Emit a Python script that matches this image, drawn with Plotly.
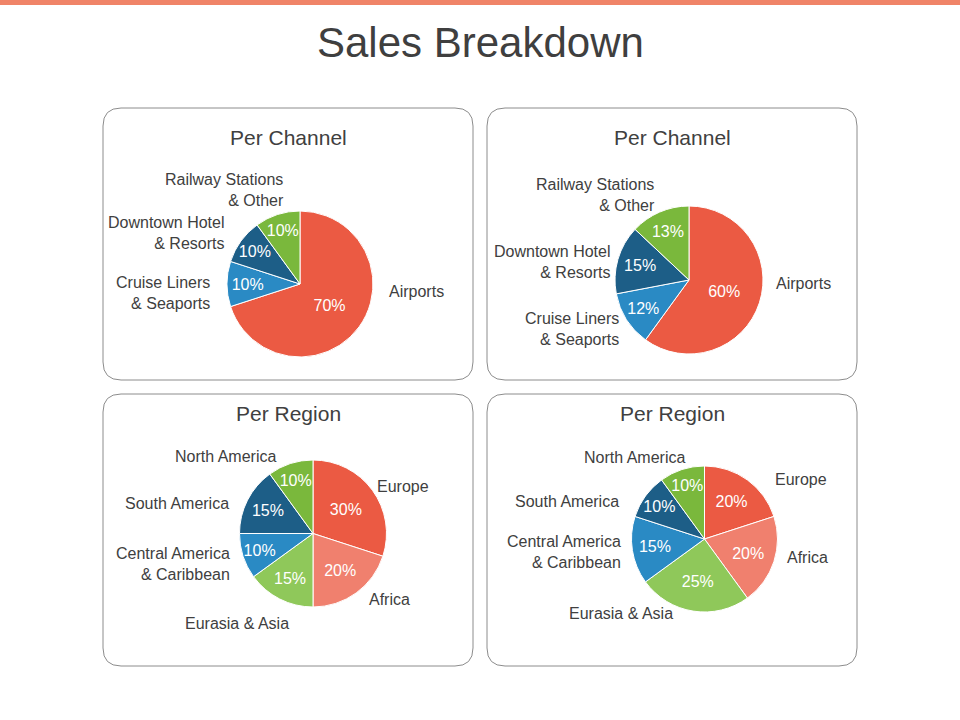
import plotly.graph_objects as go

W, H = 960, 720

# ---- data ----
channel_labels = ["Airports", "Cruise Liners<br>& Seaports", "Downtown Hotel<br>& Resorts", "Railway Stations<br>& Other"]
channel_a = [70, 10, 10, 10]
channel_b = [60, 12, 15, 13]
region_labels = ["Europe", "Africa", "Eurasia & Asia", "Central America<br>& Caribbean", "South America", "North America"]
region_a = [30, 20, 15, 10, 15, 10]
region_b = [20, 20, 25, 15, 10, 10]

channel_colors = ["#EB5A43", "#2A8AC4", "#1D5E87", "#7AB83C"]
region_colors = ["#EB5A43", "#F0806E", "#8FC85A", "#2A8AC4", "#1D5E87", "#7AB83C"]

FONT = "Liberation Sans, Arial, sans-serif"
TXT = "#404040"

# panel layout: (box x0, y0, x1, y1), title y, pie centre/radius, label placements
panels = [
    dict(box=(103, 108, 473, 380), title="Per Channel", ty=137, c=(300, 284), r=73,
         labels=channel_labels, values=channel_a, colors=channel_colors,
         lab=[(387, 291, "left"), (212, 293, "right"), (227, 233, "right"), (286, 190, "right")]),
    dict(box=(487, 108, 857, 380), title="Per Channel", ty=137, c=(689, 280), r=74,
         labels=channel_labels, values=channel_b, colors=channel_colors,
         lab=[(774, 284, "left"), (621, 329, "right"), (613, 262, "right"), (657, 195, "right")]),
    dict(box=(103, 394, 473, 666), title="Per Region", ty=413, c=(313, 533.5), r=73.5,
         labels=region_labels, values=region_a, colors=region_colors,
         lab=[(375, 486, "left"), (367, 599, "left"), (237, 623, "center"), (232, 564, "right"),
              (231, 504, "right"), (278, 456, "right")]),
    dict(box=(487, 394, 857, 666), title="Per Region", ty=413, c=(704.5, 539), r=73,
         labels=region_labels, values=region_b, colors=region_colors,
         lab=[(773, 479, "left"), (785, 557, "left"), (621, 613, "center"), (623, 552, "right"),
              (621, 501, "right"), (687, 457, "right")]),
]

def px(x):
    return x / W

def py(y):
    return 1 - y / H

def rounded_rect(x0, y0, x1, y1, rad=18):
    X0, X1 = px(x0), px(x1)
    Y0, Y1 = py(y0), py(y1)
    rx, ry = rad / W, rad / H
    return (f"M {X0+rx},{Y0} L {X1-rx},{Y0} Q {X1},{Y0} {X1},{Y0-ry} "
            f"L {X1},{Y1+ry} Q {X1},{Y1} {X1-rx},{Y1} "
            f"L {X0+rx},{Y1} Q {X0},{Y1} {X0},{Y1+ry} "
            f"L {X0},{Y0-ry} Q {X0},{Y0} {X0+rx},{Y0} Z")

fig = go.Figure()
shapes = [dict(type="rect", xref="paper", yref="paper", x0=0, x1=1, y0=py(5), y1=1,
               fillcolor="#F08468", line=dict(width=0))]
annotations = [dict(text="Sales Breakdown", x=0.5, y=py(42), xref="paper", yref="paper",
                    showarrow=False, font=dict(family=FONT, size=42, color="#3F3F3F"),
                    xanchor="center", yanchor="middle")]

for p in panels:
    cx, cy = p["c"]
    r = p["r"]
    fig.add_trace(go.Pie(
        labels=p["labels"], values=p["values"], sort=False, direction="clockwise",
        rotation=0,
        marker=dict(colors=p["colors"], line=dict(color="white", width=1)),
        textinfo="percent", textposition="inside", insidetextorientation="horizontal",
        insidetextfont=dict(family=FONT, size=16, color="white"),
        domain=dict(x=[px(cx - r), px(cx + r)], y=[py(cy + r), py(cy - r)]),
        showlegend=False, hoverinfo="label+percent",
    ))
    shapes.append(dict(type="path", path=rounded_rect(*p["box"]), xref="paper", yref="paper",
                       line=dict(color="#8C8C8C", width=1), fillcolor="rgba(0,0,0,0)"))
    bx0, _, bx1, _ = p["box"]
    annotations.append(dict(text=p["title"], x=px((bx0 + bx1) / 2), y=py(p["ty"]),
                            xref="paper", yref="paper", showarrow=False,
                            font=dict(family=FONT, size=21, color=TXT),
                            xanchor="center", yanchor="middle"))
    for lbl, (lx, ly, al) in zip(p["labels"], p["lab"]):
        annotations.append(dict(text=lbl, x=px(lx), y=py(ly), xref="paper", yref="paper",
                                showarrow=False, align=al, xanchor=al, yanchor="middle",
                                font=dict(family=FONT, size=16, color=TXT)))

fig.update_layout(width=W, height=H, margin=dict(l=0, r=0, t=0, b=0),
                  paper_bgcolor="white", plot_bgcolor="white",
                  uniformtext=dict(minsize=16, mode="show"),
                  shapes=shapes, annotations=annotations)

fig.write_html("out.html", config={"displayModeBar": False},
               post_script="document.body.style.margin='0';document.body.style.overflow='hidden';")
